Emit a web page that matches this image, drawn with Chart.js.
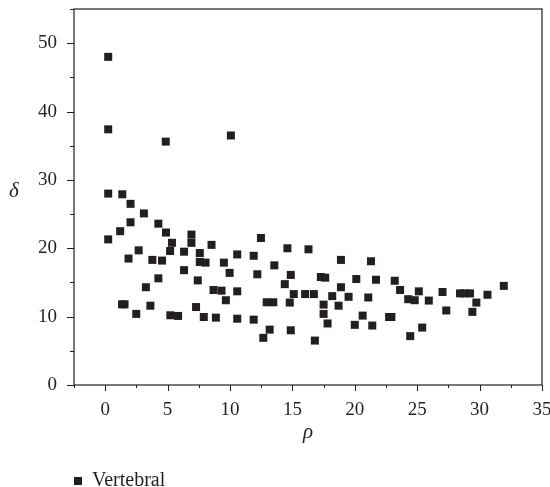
<!DOCTYPE html>
<html>
<head>
<meta charset="utf-8">
<script src="https://cdn.jsdelivr.net/npm/chart.js@4.4.1/dist/chart.umd.min.js"></script>
<style>
  html, body { margin: 0; padding: 0; background: #fff; }
  #wrap { width: 550px; height: 487px; }
</style>
</head>
<body>
<div id="wrap"><canvas id="scatter"></canvas></div>
<script>
// values (rho on x, delta on y)
const rho = [
  0.24, 0.24, 4.85, 10.07, 0.24, 1.37, 2.03, 3.1,
  0.24, 1.2, 2.03, 4.26, 4.87, 5.35, 5.2, 1.87, 2.68, 3.78, 4.55, 3.26, 4.26,
  1.35, 1.55, 2.49, 3.62, 5.22, 5.84, 6.32, 6.32, 6.91, 6.91, 7.58, 7.58, 8.04,
  7.42, 7.28, 7.9, 8.52, 8.68, 9.32, 8.87, 9.51, 9.67, 9.97, 10.58, 10.58, 10.58,
  11.9, 12.19, 11.9, 12.48, 12.67, 12.94, 13.47, 13.18, 13.55,
  14.6, 16.29, 14.87, 14.39, 15.11, 14.79, 14.87, 16.02, 16.72, 16.8, 17.28, 17.63,
  17.5, 17.5, 17.82, 18.19, 18.7, 18.89, 18.89, 19.5, 20.0, 20.12, 20.63, 21.08,
  21.4, 21.3, 21.7, 22.75, 22.93, 23.2, 23.63, 24.28, 24.8, 25.13, 24.44, 25.4,
  25.93, 27.03, 27.33, 28.43, 28.8, 29.23, 29.42, 29.74, 30.63, 31.94
];
const delta = [
  48.0, 37.4, 35.6, 36.5, 28.0, 27.9, 26.5, 25.1,
  21.3, 22.5, 23.8, 23.6, 22.3, 20.8, 19.6, 18.5, 19.7, 18.3, 18.2, 14.3, 15.6,
  11.8, 11.8, 10.4, 11.6, 10.2, 10.1, 19.5, 16.8, 22.0, 20.8, 19.3, 18.0, 17.9,
  15.3, 11.4, 9.95, 20.5, 13.9, 13.8, 9.85, 17.9, 12.4, 16.4, 19.1, 13.7, 9.7,
  18.9, 16.2, 9.56, 21.5, 6.9, 12.1, 12.1, 8.1, 17.5,
  20.0, 19.85, 16.1, 14.75, 13.3, 12.06, 8.0, 13.3, 13.3, 6.5, 15.8, 15.7,
  11.76, 10.4, 9.0, 13.0, 11.6, 18.3, 14.3, 12.9, 8.8, 15.5, 10.15, 12.8,
  8.7, 18.1, 15.4, 9.95, 9.95, 15.25, 13.9, 12.55, 12.4, 13.7, 7.15, 8.4,
  12.35, 13.6, 10.9, 13.4, 13.4, 13.4, 10.7, 12.06, 13.2, 14.5
];
const seriesLabel = 'Vertebral';
const xTitle = 'ρ';
const yTitle = 'δ';
const xMin = -2.5, xMax = 35, xStep = 2.5;
const yMin = 0, yMax = 55, yStep = 5;

const ink = '#231f20';
const serif = "'Liberation Serif', 'DejaVu Serif', serif";

// frame + tick marks (long on labelled values, short in between), delta drawn upright
const framePlugin = {
    id: 'frame',
    afterDraw(chart) {
        const { ctx, chartArea: a, scales } = chart;
        ctx.save();
        ctx.strokeStyle = ink;
        ctx.lineWidth = 1.2;
        ctx.strokeRect(a.left, a.top, a.right - a.left, a.bottom - a.top);

        ctx.lineWidth = 1;
        ctx.beginPath();
        scales.x.ticks.forEach(t => {
            const px = Math.round(scales.x.getPixelForValue(t.value)) + 0.5;
            const len = (Math.abs(t.value % 5) < 1e-6) ? 6 : 3;
            ctx.moveTo(px, a.bottom);
            ctx.lineTo(px, a.bottom + len);
        });
        scales.y.ticks.forEach(t => {
            const py = Math.round(scales.y.getPixelForValue(t.value)) + 0.5;
            const len = (t.value % 10 === 0) ? 7 : 4;
            ctx.moveTo(a.left, py);
            ctx.lineTo(a.left - len, py);
        });
        ctx.stroke();

        ctx.fillStyle = ink;
        ctx.font = 'italic 21px ' + serif;
        ctx.textAlign = 'center';
        ctx.textBaseline = 'middle';
        ctx.fillText(yTitle, 14, (a.top + a.bottom) / 2 - 6);
        ctx.restore();
    }
};

new Chart(document.getElementById('scatter'), {
    type: 'scatter',
    data: {
        datasets: [{
            label: seriesLabel,
            data: rho.map((r, i) => ({ x: r, y: delta[i] })),
            pointStyle: 'rect',
            pointRadius: 5.66,
            pointHoverRadius: 5.66,
            backgroundColor: ink,
            borderColor: ink,
            borderWidth: 0
        }]
    },
    options: {
        responsive: true,
        maintainAspectRatio: false,
        animation: false,
        layout: { padding: { top: 9, right: 8, left: 0, bottom: -14 } },
        plugins: {
            tooltip: { enabled: false },
            legend: {
                position: 'bottom',
                align: 'start',
                fullSize: false,
                labels: {
                    usePointStyle: true,
                    boxWidth: 8,
                    boxHeight: 8,
                    padding: 0,
                    color: ink,
                    font: { family: serif, size: 20 }
                }
            }
        },
        scales: {
            x: {
                type: 'linear',
                min: xMin,
                max: xMax,
                grid: { display: false, drawTicks: false },
                border: { display: false },
                ticks: {
                    stepSize: xStep,
                    padding: 14,
                    color: ink,
                    font: { family: serif, size: 19 },
                    callback: v => (Math.abs(v % 5) < 1e-6 ? v : '')
                },
                title: {
                    display: true,
                    text: xTitle,
                    color: ink,
                    font: { family: serif, size: 21, style: 'italic' },
                    padding: { top: 0, bottom: 26 }
                },
                afterFit: s => { s.height = 86; s.paddingLeft = 0; s.paddingRight = 0; }
            },
            y: {
                type: 'linear',
                min: yMin,
                max: yMax,
                grid: { display: false, drawTicks: false },
                border: { display: false },
                ticks: {
                    stepSize: yStep,
                    padding: 17,
                    color: ink,
                    font: { family: serif, size: 19 },
                    callback: v => (v % 10 === 0 ? v : '')
                },
                afterFit: s => { s.width = 74; s.paddingTop = 0; s.paddingBottom = 0; }
            }
        }
    },
    plugins: [framePlugin]
});
</script>
</body>
</html>
